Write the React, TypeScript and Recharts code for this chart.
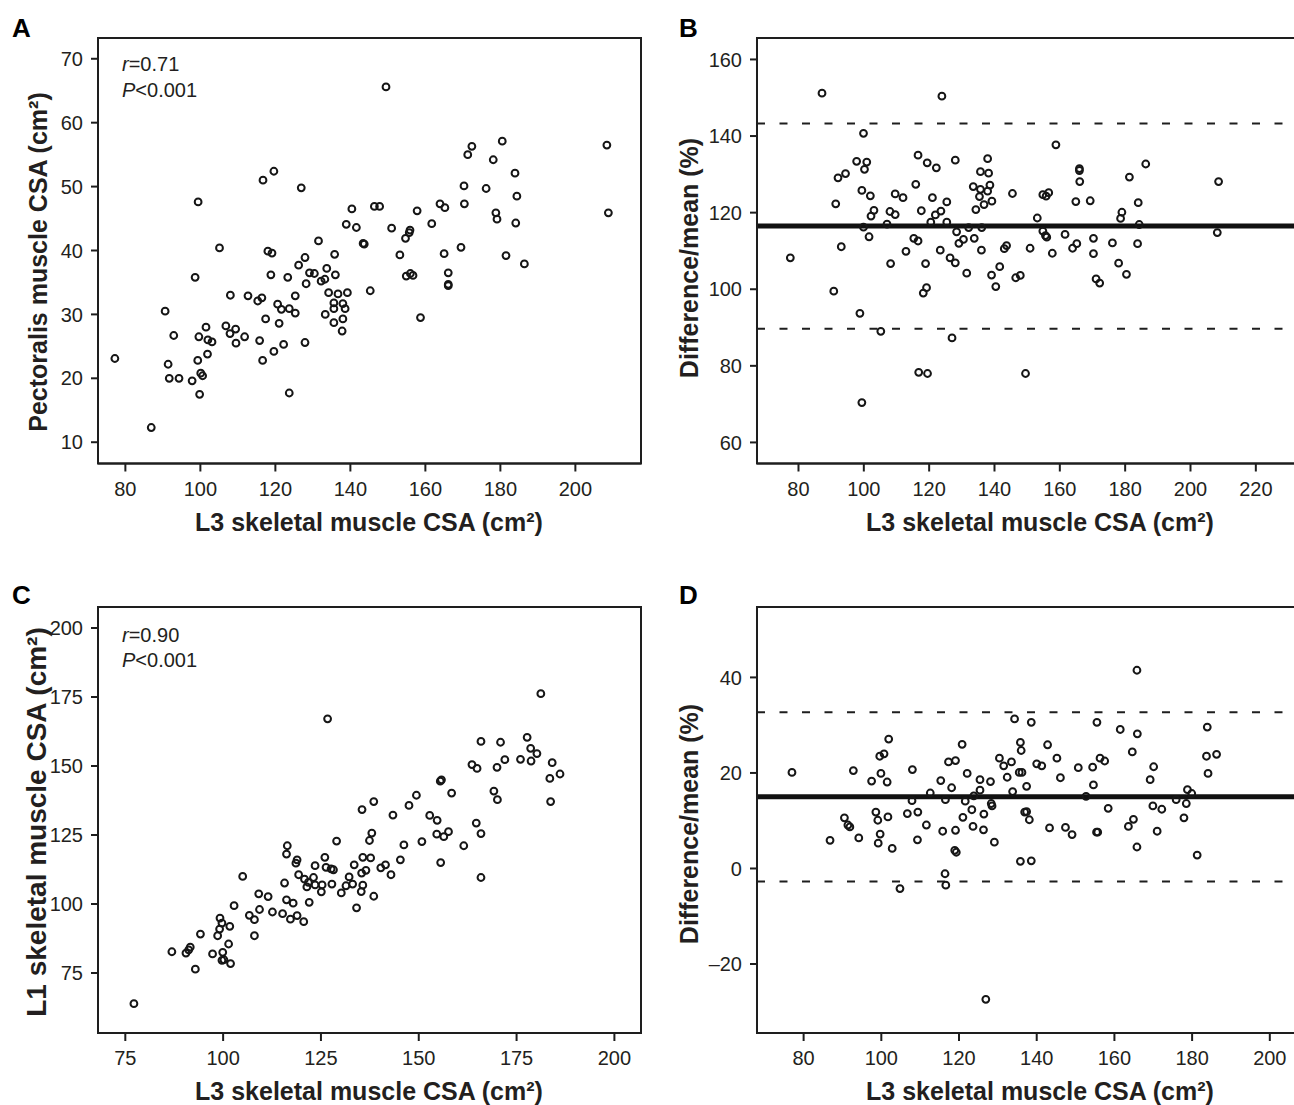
import React from "react";
import {
  ScatterChart,
  Scatter,
  XAxis,
  YAxis,
  ReferenceArea,
  ReferenceLine,
} from "recharts";

// ---------- DATA ----------
// Panel A: L3 skeletal muscle CSA (x) vs Pectoralis muscle CSA (y)
const pointsA: number[][] = [
  [119.6, 52.4], [116.7, 51.0], [126.9, 49.8], [99.4, 47.6], [140.4, 46.5],
  [138.9, 44.1], [141.6, 43.6], [143.4, 41.1], [143.7, 41.0], [131.5, 41.5],
  [105.1, 40.4], [118.0, 39.9], [119.1, 39.6], [135.8, 39.4], [127.9, 38.9],
  [126.2, 37.7], [133.7, 37.2], [129.1, 36.5], [130.4, 36.4], [118.8, 36.2],
  [123.3, 35.8], [136.0, 36.2], [133.2, 35.5], [132.2, 35.2], [128.2, 34.8],
  [98.6, 35.8], [145.3, 33.7], [108.0, 33.0], [112.7, 32.9], [116.4, 32.6],
  [115.3, 32.1], [125.3, 32.9], [134.2, 33.4], [136.7, 33.2], [139.2, 33.4],
  [135.6, 31.8], [138.0, 31.7], [120.6, 31.6], [121.6, 30.8], [123.7, 30.9],
  [125.3, 30.2], [135.6, 30.9], [138.6, 30.9], [133.3, 30.0], [135.6, 28.7],
  [138.0, 29.3], [137.8, 27.4], [117.4, 29.3], [121.0, 28.6], [90.6, 30.5],
  [92.9, 26.7], [101.5, 28.0], [106.8, 28.2], [107.9, 27.0], [109.4, 27.7],
  [99.6, 26.5], [102.0, 26.0], [103.1, 25.7], [111.8, 26.5], [109.5, 25.5],
  [115.8, 25.9], [127.9, 25.6], [122.2, 25.3], [119.6, 24.2], [101.9, 23.8],
  [99.3, 22.8], [116.6, 22.8], [77.2, 23.1], [91.4, 22.2], [91.7, 20.0],
  [94.3, 20.0], [97.8, 19.6], [100.1, 20.8], [100.6, 20.4], [99.8, 17.5],
  [123.7, 17.7], [86.9, 12.3],
  [149.5, 65.6], [172.4, 56.3], [171.3, 55.0], [180.5, 57.1], [178.1, 54.2],
  [208.4, 56.5], [208.8, 45.9], [183.9, 52.1], [184.4, 48.5], [170.3, 50.1],
  [176.2, 49.7], [170.4, 47.3], [178.8, 45.9], [179.1, 44.9], [184.1, 44.3],
  [163.9, 47.3], [165.2, 46.7], [157.8, 46.2], [146.4, 46.9], [147.8, 46.9],
  [151.0, 43.5], [155.9, 43.2], [155.7, 42.8], [154.7, 41.9], [161.7, 44.2],
  [153.2, 39.3], [169.5, 40.5], [165.0, 39.5], [181.5, 39.2], [186.4, 37.9],
  [154.9, 36.0], [156.0, 36.4], [156.7, 36.1], [166.1, 36.5], [166.1, 34.7],
  [166.1, 34.5], [158.7, 29.5],
];

// Panel B: L3 CSA (x) vs Difference/mean % (y)
const pointsB: number[][] = [
  [87.2, 151.2], [123.9, 150.4], [99.9, 140.7], [97.8, 133.4], [100.9, 133.2],
  [100.2, 131.3], [92.1, 129.1], [94.4, 130.2], [116.6, 135.0], [119.4, 133.0],
  [122.2, 131.7], [128.0, 133.7], [137.9, 134.1], [135.7, 130.7], [138.2, 130.3],
  [133.5, 126.8], [135.7, 126.1], [137.9, 125.6], [138.6, 127.2], [135.4, 124.2],
  [136.8, 122.1], [139.2, 123.0], [134.3, 120.8], [145.5, 125.0], [115.9, 127.4],
  [99.4, 125.8], [102.0, 124.4], [109.6, 124.9], [112.0, 123.9], [91.4, 122.3],
  [121.0, 123.9], [125.4, 122.8], [103.1, 120.6], [102.2, 119.1], [108.0, 120.3],
  [109.6, 119.5], [117.6, 120.5], [121.9, 119.4], [123.6, 120.4], [120.5, 117.5],
  [125.4, 117.5], [107.1, 117.0], [99.9, 116.2], [132.1, 116.1], [136.1, 116.1],
  [101.6, 113.7], [128.4, 115.0], [115.3, 113.3], [116.6, 112.6], [129.1, 112.0],
  [130.5, 113.0], [133.8, 113.3], [93.1, 111.1], [112.9, 109.9], [123.4, 110.2],
  [136.0, 110.2], [143.7, 111.4], [143.0, 110.6], [77.5, 108.2], [108.2, 106.7],
  [118.9, 106.7], [126.4, 108.2], [128.0, 106.9], [131.5, 104.2], [139.1, 103.7],
  [141.6, 105.9], [140.4, 100.7], [146.5, 103.0], [147.9, 103.6], [119.2, 100.4],
  [118.2, 99.0], [90.8, 99.5], [98.8, 93.7], [105.2, 89.0], [127.0, 87.3],
  [116.8, 78.3], [119.5, 78.0], [99.4, 70.4],
  [149.5, 78.0], [158.8, 137.7], [166.0, 131.5], [166.0, 131.0], [166.1, 128.1],
  [186.3, 132.7], [181.3, 129.3], [208.6, 128.1], [154.8, 124.7], [156.6, 125.2],
  [155.8, 124.3], [164.9, 122.9], [169.3, 123.1], [184.0, 122.6], [179.0, 120.1],
  [178.6, 118.5], [153.1, 118.6], [184.3, 116.9], [208.2, 114.8], [154.8, 115.2],
  [156.0, 113.6], [155.6, 114.0], [161.6, 114.3], [150.9, 110.7], [157.7, 109.4],
  [163.9, 110.7], [165.2, 111.9], [170.3, 113.3], [170.3, 109.3], [176.1, 112.1],
  [183.8, 111.9], [178.0, 106.8], [180.4, 103.9], [171.1, 102.7], [172.2, 101.6],
];
const meanB = 116.5;
const upperB = 143.3;
const lowerB = 89.7;

// Panel C: L3 CSA (x) vs L1 skeletal muscle CSA (y)
const pointsC: number[][] = [
  [126.7, 167.1], [135.5, 134.2], [138.5, 137.1], [129.0, 122.8], [138.0, 125.7],
  [137.4, 123.0], [116.4, 121.1], [116.2, 118.1], [118.9, 116.0], [118.6, 114.8],
  [126.0, 116.9], [123.5, 113.9], [126.3, 113.3], [127.6, 112.7], [128.2, 112.4],
  [133.5, 114.2], [135.7, 116.9], [137.7, 116.7], [135.4, 111.2], [136.5, 112.2],
  [119.3, 110.6], [120.8, 109.0], [123.1, 109.6], [121.8, 107.8], [123.5, 106.9],
  [125.3, 106.9], [125.1, 104.4], [127.8, 107.2], [121.4, 106.2], [115.7, 107.6],
  [132.2, 109.8], [131.4, 106.6], [133.1, 107.2], [130.2, 104.0], [135.7, 106.8],
  [135.3, 104.5], [138.5, 102.8], [134.1, 98.6], [105.0, 110.0], [109.1, 103.7],
  [111.5, 102.7], [116.2, 101.5], [117.9, 100.3], [122.0, 100.6], [102.8, 99.4],
  [109.3, 98.0], [112.6, 97.1], [115.2, 96.5], [117.2, 94.5], [118.9, 95.8],
  [120.6, 93.6], [106.7, 95.9], [108.0, 94.3], [108.0, 88.5], [99.2, 94.9],
  [99.7, 93.1], [99.1, 90.9], [101.7, 91.9], [98.6, 88.5], [94.2, 89.1],
  [101.4, 85.5], [99.9, 82.5], [97.3, 81.9], [100.2, 79.8], [99.7, 79.6],
  [101.9, 78.4], [91.6, 84.4], [91.2, 83.4], [90.5, 82.2], [86.9, 82.7],
  [92.9, 76.4], [77.2, 63.9],
  [181.2, 176.2], [177.7, 160.4], [165.9, 158.9], [170.9, 158.6], [178.6, 156.4],
  [180.2, 154.5], [178.7, 151.8], [176.0, 152.4], [172.0, 152.3], [170.0, 149.5],
  [163.6, 150.5], [164.9, 149.1], [184.1, 151.2], [183.5, 145.5], [186.1, 147.1],
  [183.7, 137.1], [169.2, 140.9], [170.1, 137.8], [155.5, 144.5], [155.8, 145.0],
  [158.4, 140.2], [149.4, 139.4], [147.5, 135.7], [143.4, 132.2], [152.8, 132.1],
  [154.7, 130.3], [164.7, 129.3], [165.9, 125.5], [161.5, 121.1], [154.6, 125.3],
  [156.4, 124.4], [157.6, 126.2], [150.8, 122.6], [146.2, 121.4], [141.5, 114.2],
  [140.3, 113.1], [142.9, 110.6], [145.3, 116.0], [155.6, 115.0], [165.9, 109.6],
];

// Panel D: L3 CSA (x) vs Difference/mean % (y)
const pointsD: number[][] = [
  [77.0, 20.1], [92.8, 20.5], [101.9, 27.1], [99.6, 23.5], [100.7, 24.0],
  [99.9, 19.9], [97.5, 18.3], [101.5, 18.1], [108.0, 20.7], [120.8, 26.0],
  [117.3, 22.3], [119.1, 22.6], [122.1, 19.9], [115.3, 18.4], [118.1, 16.9],
  [125.4, 18.6], [125.4, 16.4], [128.1, 18.2], [130.4, 23.1], [131.5, 21.5],
  [133.5, 22.3], [132.4, 19.1], [134.3, 31.3], [135.8, 26.4], [136.0, 24.7],
  [135.5, 20.1], [133.8, 16.1], [112.6, 15.8], [107.9, 14.2], [116.5, 14.4],
  [121.6, 14.1], [123.8, 15.2], [128.3, 13.6], [128.5, 13.1], [123.3, 12.3],
  [126.4, 11.4], [121.0, 10.7], [123.6, 8.8], [126.3, 8.1], [129.1, 5.5],
  [119.1, 8.0], [115.8, 7.8], [118.9, 3.8], [119.3, 3.4], [111.6, 9.1],
  [109.4, 11.8], [106.7, 11.5], [109.3, 6.0], [98.6, 11.8], [99.1, 10.1],
  [101.7, 10.8], [99.7, 7.2], [99.2, 5.3], [102.8, 4.2], [90.5, 10.6],
  [91.4, 9.1], [91.9, 8.7], [94.2, 6.4], [86.8, 5.9], [135.8, 1.5],
  [116.4, -1.1], [116.6, -3.5], [104.8, -4.2], [126.9, -27.4], [136.2, 20.1],
  [136.9, 11.8],
  [165.8, 41.5], [138.6, 30.6], [155.5, 30.6], [161.5, 29.1], [165.9, 28.2],
  [183.9, 29.6], [142.8, 25.9], [164.6, 24.4], [145.2, 23.1], [156.3, 23.1],
  [157.5, 22.5], [140.0, 21.9], [141.3, 21.5], [150.7, 21.1], [154.4, 21.2],
  [170.1, 21.3], [183.7, 23.5], [186.3, 23.9], [184.1, 19.9], [146.1, 19.0],
  [169.2, 18.6], [154.6, 17.5], [137.4, 17.2], [178.8, 16.5], [179.9, 15.7],
  [175.9, 14.4], [152.7, 15.1], [178.5, 13.6], [169.9, 13.1], [172.2, 12.4],
  [158.4, 12.6], [137.4, 11.9], [138.1, 10.2], [177.9, 10.6], [164.9, 10.3],
  [163.6, 8.8], [143.3, 8.5], [147.4, 8.6], [149.1, 7.1], [155.4, 7.6],
  [155.7, 7.6], [171.0, 7.8], [165.8, 4.5], [181.3, 2.8], [138.6, 1.6],
];
const meanD = 15.0;
const upperD = 32.7;
const lowerD = -2.7;

// Tick labels
const ticksA_x = [80, 100, 120, 140, 160, 180, 200];
const ticksA_y = [10, 20, 30, 40, 50, 60, 70];
const ticksB_x = [80, 100, 120, 140, 160, 180, 200, 220];
const ticksB_y = [60, 80, 100, 120, 140, 160];
const ticksC_x = [75, 100, 125, 150, 175, 200];
const ticksC_y = [75, 100, 125, 150, 175, 200];
const ticksD_x = [80, 100, 120, 140, 160, 180, 200];
const ticksD_y = [-20, 0, 20, 40];

// Titles
const xTitle = "L3 skeletal muscle CSA (cm\u00b2)";
const yTitleA = "Pectoralis muscle CSA (cm\u00b2)";
const yTitleC = "L1 skeletal muscle CSA (cm\u00b2)";
const yTitleBD = "Difference/mean (%)";

// ---------- STYLE ----------
const FONT = "'Liberation Sans', Arial, Helvetica, sans-serif";
const INK = "#231f20";
const LINE = "#1e1e1e";

const toObjs = (arr: number[][]) => arr.map(([x, y]) => ({ x, y }));

const Ring = (props: any) => {
  const { cx, cy } = props;
  if (cx == null || cy == null) return null;
  return (
    <circle cx={cx} cy={cy} r={3.4} fill="none" stroke="#161616" strokeWidth={2} />
  );
};

const fmtTick = (v: number) => (v < 0 ? "\u2013" + Math.abs(v) : String(v));

type PanelProps = {
  plotLeft: number;
  plotTop: number;
  plotW: number;
  plotH: number;
  xDomain: [number, number];
  yDomain: [number, number];
  xTicks: number[];
  yTicks: number[];
  points: number[][];
  mean?: number;
  upper?: number;
  lower?: number;
};

const Y_W = 80;
const M_T = 4;
const M_R = 4;
const X_H = 50;

function Panel(p: PanelProps) {
  const width = Y_W + p.plotW + M_R;
  const height = M_T + p.plotH + X_H;
  const tickStyle = { fontSize: 20, fill: INK, fontFamily: FONT };
  return (
    <div
      style={{
        position: "absolute",
        left: p.plotLeft - Y_W,
        top: p.plotTop - M_T,
        width,
        height,
      }}
    >
      <ScatterChart
        width={width}
        height={height}
        margin={{ top: M_T, right: M_R, bottom: 0, left: 0 }}
      >
        <XAxis
          type="number"
          dataKey="x"
          domain={p.xDomain}
          ticks={p.xTicks}
          allowDataOverflow
          height={X_H}
          interval={0}
          tick={tickStyle}
          tickSize={8}
          tickMargin={10}
          axisLine={{ stroke: LINE, strokeWidth: 2 }}
          tickLine={{ stroke: LINE, strokeWidth: 2 }}
          tickFormatter={fmtTick}
        />
        <YAxis
          type="number"
          dataKey="y"
          domain={p.yDomain}
          ticks={p.yTicks}
          allowDataOverflow
          width={Y_W}
          interval={0}
          tick={tickStyle}
          tickSize={7}
          tickMargin={8}
          axisLine={{ stroke: LINE, strokeWidth: 2 }}
          tickLine={{ stroke: LINE, strokeWidth: 2 }}
          tickFormatter={fmtTick}
        />
        <ReferenceArea
          x1={p.xDomain[0]}
          x2={p.xDomain[1]}
          y1={p.yDomain[0]}
          y2={p.yDomain[1]}
          fill="none"
          fillOpacity={0}
          stroke={LINE}
          strokeWidth={2}
          ifOverflow="visible"
        />
        {p.upper !== undefined && (
          <ReferenceLine
            y={p.upper}
            stroke={LINE}
            strokeWidth={2}
            strokeDasharray="8 14.5"
          />
        )}
        {p.lower !== undefined && (
          <ReferenceLine
            y={p.lower}
            stroke={LINE}
            strokeWidth={2}
            strokeDasharray="8 14.5"
          />
        )}
        {p.mean !== undefined && (
          <ReferenceLine y={p.mean} stroke="#111" strokeWidth={5} />
        )}
        <Scatter data={toObjs(p.points)} shape={Ring} isAnimationActive={false} />
      </ScatterChart>
    </div>
  );
}

export default function App() {
  const titleStyle = {
    fontFamily: FONT,
    fontWeight: 700,
    fontSize: 25,
    fill: INK,
  } as const;
  const titleStyleC = { ...titleStyle, fontSize: 28 } as const;
  const letterStyle = {
    fontFamily: FONT,
    fontWeight: 700,
    fontSize: 26,
    fill: "#000",
  } as const;
  const annStyle = { fontFamily: FONT, fontSize: 20, fill: INK } as const;
  return (
    <div
      style={{
        position: "absolute",
        left: 0,
        top: 0,
        width: 1294,
        height: 1105,
        overflow: "hidden",
        background: "#fff",
      }}
    >
      <Panel
        plotLeft={97.7}
        plotTop={37.5}
        plotW={543}
        plotH={425.5}
        xDomain={[72.7, 217.5]}
        yDomain={[6.67, 73.25]}
        xTicks={ticksA_x}
        yTicks={ticksA_y}
        points={pointsA}
      />
      <Panel
        plotLeft={756.7}
        plotTop={37.5}
        plotW={541.3}
        plotH={425.5}
        xDomain={[67.3, 233]}
        yDomain={[54.5, 165.6]}
        xTicks={ticksB_x}
        yTicks={ticksB_y}
        points={pointsB}
        mean={meanB}
        upper={upperB}
        lower={lowerB}
      />
      <Panel
        plotLeft={97.7}
        plotTop={607.3}
        plotW={543}
        plotH={426}
        xDomain={[68.02, 206.8]}
        yDomain={[53.26, 207.6]}
        xTicks={ticksC_x}
        yTicks={ticksC_y}
        points={pointsC}
      />
      <Panel
        plotLeft={756.7}
        plotTop={607.3}
        plotW={543.9}
        plotH={426}
        xDomain={[68, 208]}
        yDomain={[-34.44, 54.74]}
        xTicks={ticksD_x}
        yTicks={ticksD_y}
        points={pointsD}
        mean={meanD}
        upper={upperD}
        lower={lowerD}
      />
      <svg
        width={1294}
        height={1105}
        style={{ position: "absolute", left: 0, top: 0, pointerEvents: "none" }}
      >
        <text x={12} y={36.7} style={letterStyle}>A</text>
        <text x={679} y={36.7} style={letterStyle}>B</text>
        <text x={12} y={604} style={letterStyle}>C</text>
        <text x={679} y={604} style={letterStyle}>D</text>

        <text x={122} y={71} style={annStyle}>
          <tspan fontStyle="italic">r</tspan>=0.71
        </text>
        <text x={122} y={97.3} style={annStyle}>
          <tspan fontStyle="italic">P</tspan>&lt;0.001
        </text>
        <text x={122} y={641.7} style={annStyle}>
          <tspan fontStyle="italic">r</tspan>=0.90
        </text>
        <text x={122} y={666.7} style={annStyle}>
          <tspan fontStyle="italic">P</tspan>&lt;0.001
        </text>

        <text x={369} y={531} textAnchor="middle" style={titleStyle}>{xTitle}</text>
        <text x={1040} y={531} textAnchor="middle" style={titleStyle}>{xTitle}</text>
        <text x={369} y={1100} textAnchor="middle" style={titleStyle}>{xTitle}</text>
        <text x={1040} y={1100} textAnchor="middle" style={titleStyle}>{xTitle}</text>

        <text transform="translate(47,262) rotate(-90)" textAnchor="middle" style={titleStyle}>
          {yTitleA}
        </text>
        <text transform="translate(46,822) rotate(-90)" textAnchor="middle" style={titleStyleC}>
          {yTitleC}
        </text>
        <text transform="translate(698,258) rotate(-90)" textAnchor="middle" style={titleStyle}>
          {yTitleBD}
        </text>
        <text transform="translate(698,824) rotate(-90)" textAnchor="middle" style={titleStyle}>
          {yTitleBD}
        </text>
      </svg>
    </div>
  );
}
